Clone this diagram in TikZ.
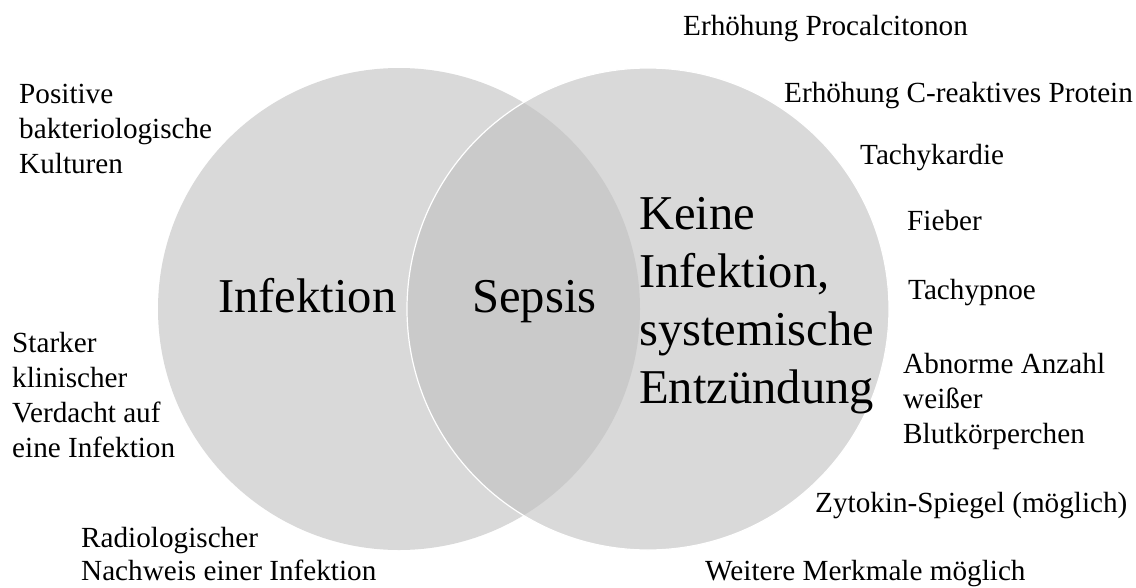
\documentclass[tikz,border=0pt]{standalone}
\usepackage{fontspec}
\setmainfont{Liberation Serif}
\definecolor{vennfill}{RGB}{217,217,217}
\definecolor{lensfill}{RGB}{202,202,202}
\begin{document}
\begin{tikzpicture}[x=1pt,y=-1pt,
  small/.style={font=\fontsize{29.2}{35}\selectfont, inner sep=0pt, anchor=base west, align=left},
  big/.style={font=\fontsize{48.6}{58}\selectfont, inner sep=0pt, anchor=base west, align=left}]
\useasboundingbox (0,0) rectangle (1136,587);
\coordinate (cl) at (399,309);
\coordinate (cr) at (648,309);
\fill[vennfill] (cl) circle[radius=241pt];
\fill[vennfill] (cr) circle[radius=241pt];
\begin{scope}
  \clip (cl) circle[radius=241pt];
  \fill[lensfill] (cr) circle[radius=241pt];
\end{scope}
\draw[white, line width=1.2pt] (cr) circle[radius=241pt];

% big labels (anchor = baseline of last line)
\node[big] (inf) at (218,312) {Infektion};
\node[big] (sep) at (472,312) {Sepsis};
\node[big] (keine) at (639,403) {Keine\\Infektion,\\systemische\\Entzündung};

% left texts
\node[small] (pos) at (19,173) {Positive\\bakteriologische\\Kulturen};
\node[small] (stark) at (12,457) {Starker\\klinischer\\Verdacht auf\\eine Infektion};
\node[small, font=\fontsize{29.2}{33}\selectfont] (radio) at (81,580) {Radiologischer\\Nachweis einer Infektion};

% right texts
\node[small] (pct) at (683,35) {Erhöhung Procalcitonon};
\node[small] (crp) at (784,102) {Erhöhung C-reaktives Protein};
\node[small] (tachyk) at (860,164) {Tachykardie};
\node[small] (fieber) at (907,230) {Fieber};
\node[small] (tachyp) at (908,299) {Tachypnoe};
\node[small] (leuko) at (903,443) {Abnorme Anzahl\\weißer\\Blutkörperchen};
\node[small] (zyto) at (815,512) {Zytokin-Spiegel (möglich)};
\node[small] (weitere) at (705,580) {Weitere Merkmale möglich};
\end{tikzpicture}
\end{document}
